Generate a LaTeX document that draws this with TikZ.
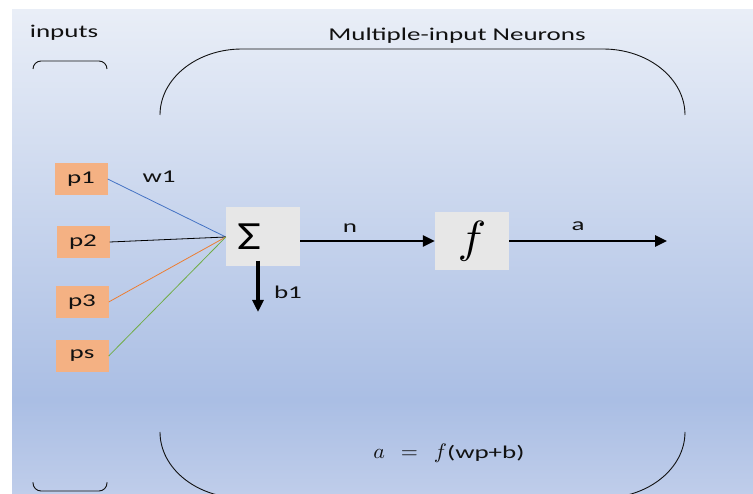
\documentclass[tikz,border=0pt]{standalone}
\usepackage{graphicx}
\usepackage{fontspec}
\setmainfont[FakeStretch=1.5]{Carlito}
\newfontfamily\symfont[FakeStretch=1.3]{Carlito}
\usetikzlibrary{arrows.meta}
\definecolor{BgTop}      {HTML}{E9EEF7}
\definecolor{BgMid}      {HTML}{AABEE4}
\definecolor{BgLow}      {HTML}{BFCDEA}
\definecolor{InputOrange}{HTML}{F4B183}
\definecolor{BoxGrey}    {HTML}{E7E7E7}
\definecolor{WireBlue}   {HTML}{4472C4}
\definecolor{WireOrange} {HTML}{ED7D31}
\definecolor{WireGreen}  {HTML}{70AD47}
\definecolor{InkDark}    {HTML}{111111}
\newcommand{\bigmath}[3]{\scalebox{#1}[#2]{\fontsize{10}{12}\selectfont$#3$}}

\begin{document}
\begin{tikzpicture}[x=1pt,y=-1pt,
  lbl/.style={font=\fontsize{18}{20}\selectfont,text=InkDark,inner sep=0pt,anchor=base},
  inbox/.style={fill=InputOrange,minimum width=53pt,minimum height=32pt,
                inner sep=0pt,font=\fontsize{18}{20}\selectfont,text=InkDark},
  opbox/.style={fill=BoxGrey,minimum width=74pt,minimum height=59pt,inner sep=0pt},
  wire/.style={line width=0.8pt},
  arr/.style={-{Triangle[length=12pt,width=11pt]},line width=2.7pt},
  brace/.style={line width=0.9pt,draw=InkDark}
]
  \useasboundingbox (0,0) rectangle (753,494);
  \clip (0,0) rectangle (753,494);
  % background
  \shade[top color=BgTop,bottom color=BgMid] (12,10) rectangle (753,400);
  \shade[top color=BgMid,bottom color=BgLow] (12,400) rectangle (753,494);

  % brackets
  \draw[brace,rounded corners=8pt] (33,69) -- (33,61) -- (107,61) -- (107,69);
  \draw[brace,rounded corners=8pt] (33,482) -- (33,491) -- (107,491) -- (107,482);
  \draw[brace] (160,115) arc[start angle=180,end angle=270,x radius=82,y radius=66]
               -- (603,49) arc[start angle=270,end angle=360,x radius=82,y radius=66];
  \draw[brace] (160,432) arc[start angle=180,end angle=90,x radius=82,y radius=66]
               -- (603,498) arc[start angle=90,end angle=0,x radius=82,y radius=66];

  \node[lbl] (inputs) at (64,38) {inputs};
  \node[lbl] (title)  at (457,41) {Multiple-input Neurons};

  % inputs
  \node[inbox] (p1) at (81,179) {p1};
  \node[inbox] (p2) at (83,242) {p2};
  \node[inbox] (p3) at (82,302) {p3};
  \node[inbox] (ps) at (82,356) {ps};

  % neuron
  \node[opbox,text width=52pt,align=left] (sum) at (263,237)
        {\symfont\fontsize{40}{42}\selectfont Σ};
  \node[opbox,minimum height=58pt] (f) at (472,241) {\bigmath{4.8}{4.5}{f}};
  \coordinate (bias) at (258,312);
  \coordinate (out)  at (667,241);

  \node[lbl] (w1) at (159,183) {w1};
  \node[lbl] (n)  at (350,232.5) {n};
  \node[lbl] (a)  at (578,230.5) {a};
  \node[lbl] (b1) at (288,299) {b1};
  \node[lbl] (eq) at (449,458) {\bigmath{2.2}{2.1}{a\mkern8mu=\mkern8mu f}(wp+b)};

  \draw[wire,WireBlue] (p1.east)--(sum.west); \draw[wire] (p2.east)--(sum.west);
  \draw[wire,WireOrange] (p3.east)--(sum.west); \draw[wire,WireGreen] (ps.east)--(sum.west);
  \draw[arr] (sum.east |- f.west)--(f.west); \draw[arr] (f.east)--(out);
  \draw[arr,line width=3.6pt] ([xshift=-5pt,yshift=6pt]sum.south)--(bias);
\end{tikzpicture}
\end{document}
